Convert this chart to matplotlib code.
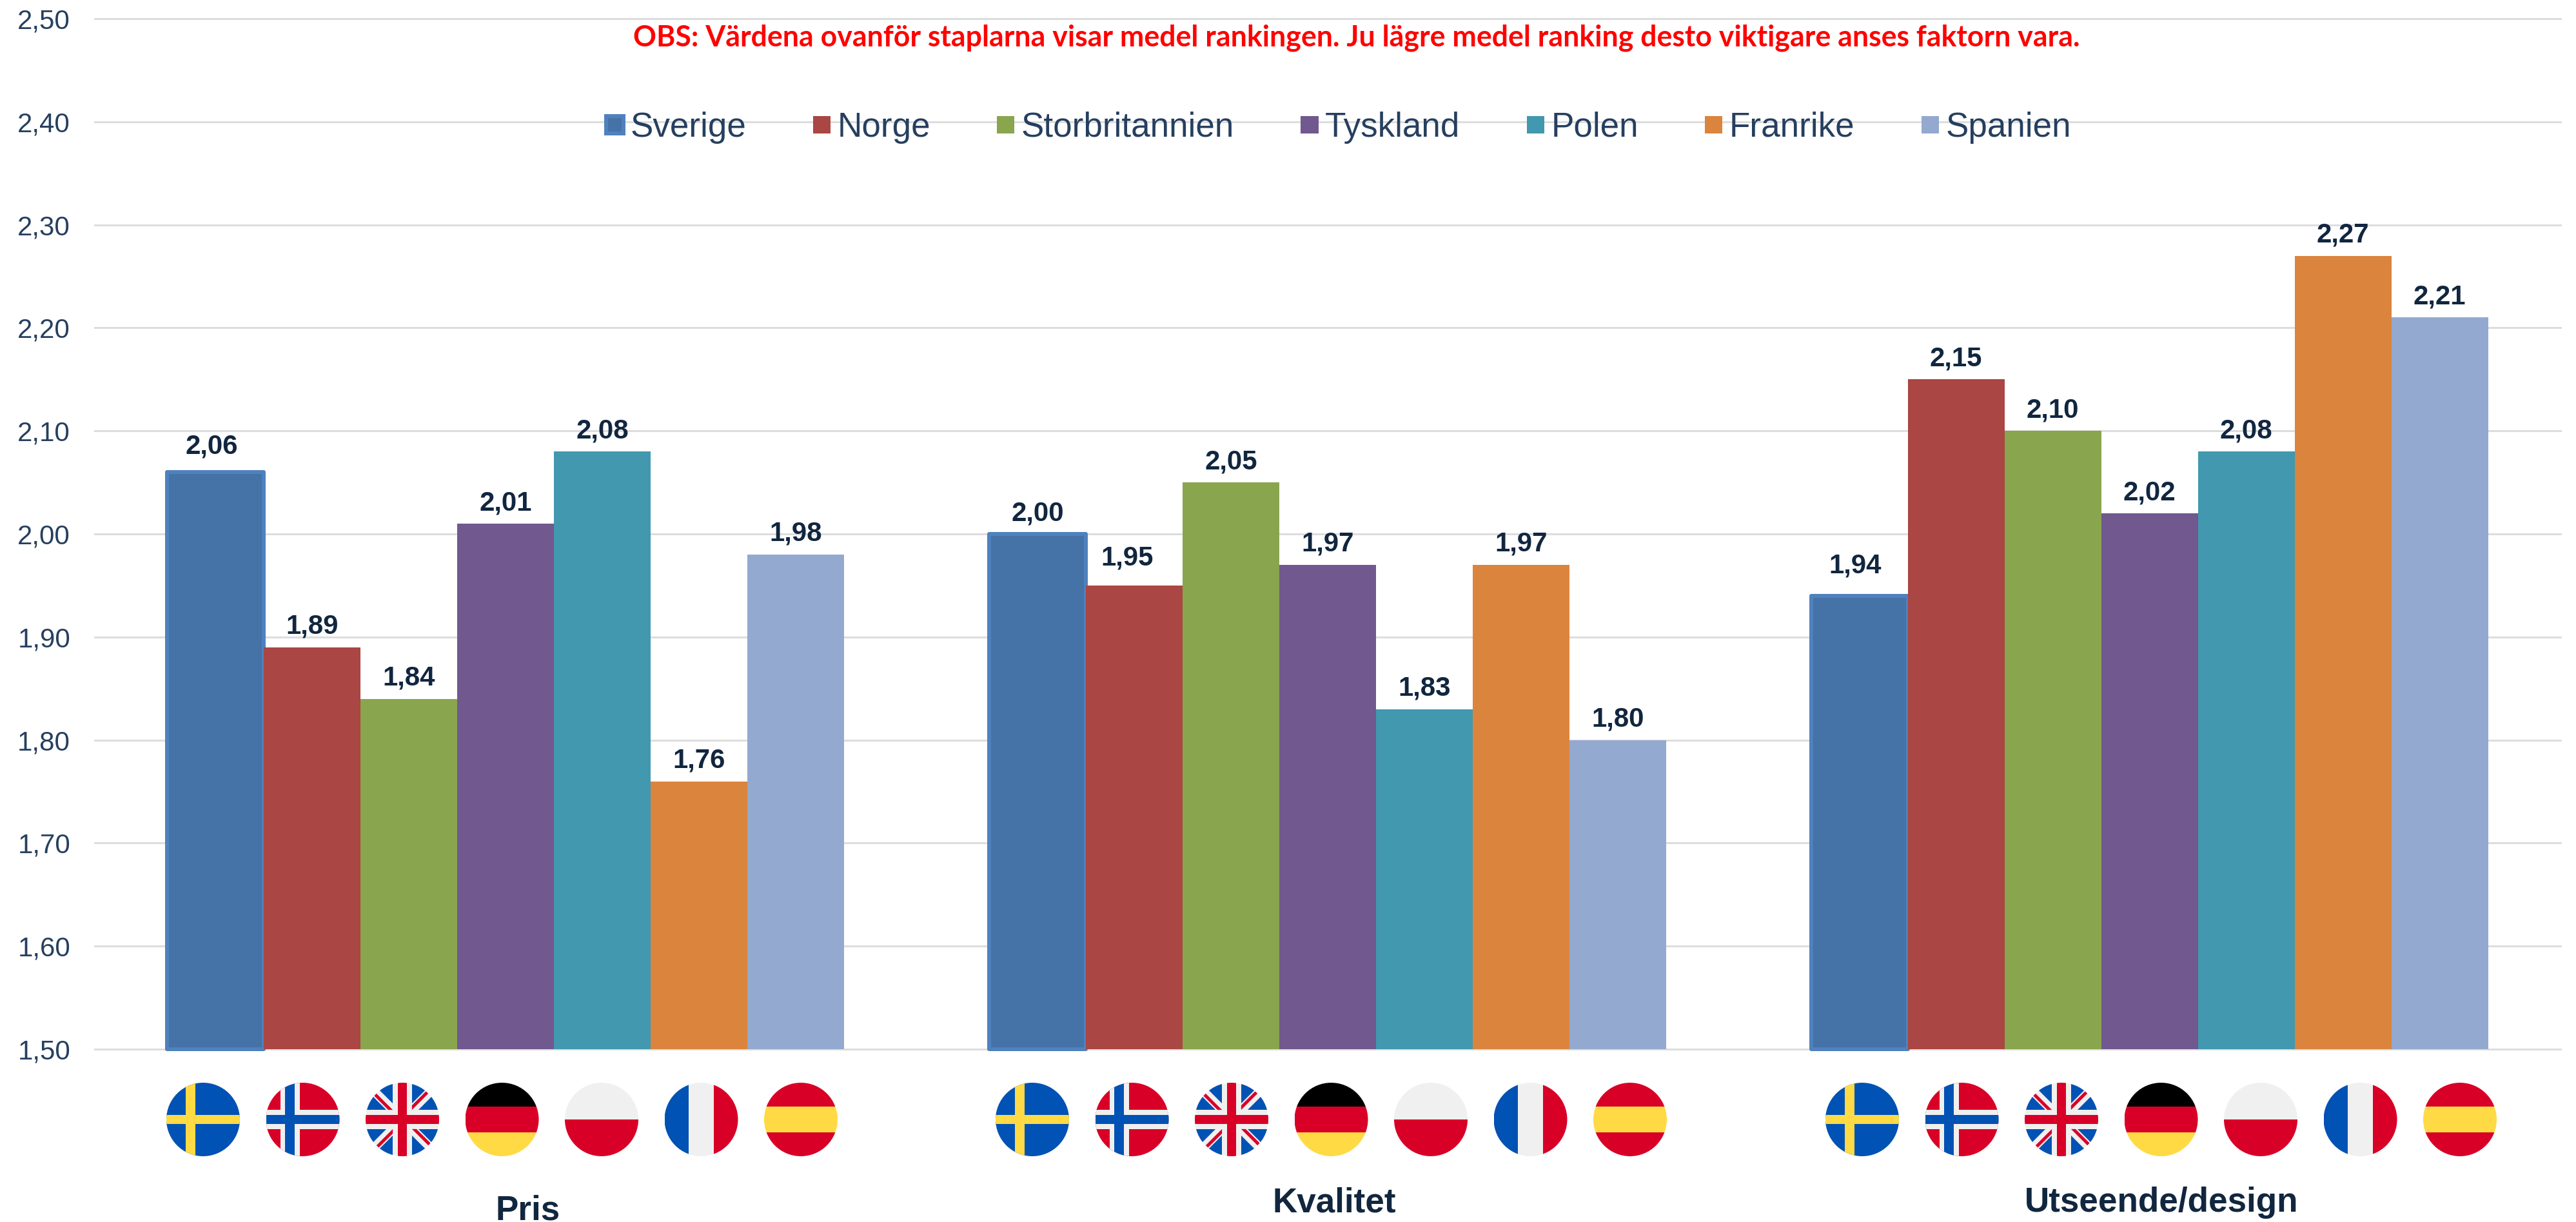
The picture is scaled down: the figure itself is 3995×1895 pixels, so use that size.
import numpy as np
import matplotlib
matplotlib.use('Agg')
import matplotlib.pyplot as plt
from matplotlib.patches import Circle, Polygon
from matplotlib.transforms import Affine2D

plt.rcParams['font.family'] = ['Liberation Sans', 'DejaVu Sans']

W, H = 3995, 1895
PX = 0.72  # points per pixel at dpi 100

groups = ['Pris', 'Kvalitet', 'Utseende/design']
sverige = [2.06, 2.00, 1.94]
norge = [1.89, 1.95, 2.15]
storbritannien = [1.84, 2.05, 2.10]
tyskland = [2.01, 1.97, 2.02]
polen = [2.08, 1.83, 2.08]
franrike = [1.76, 1.97, 2.27]
spanien = [1.98, 1.80, 2.21]

countries = ['Sverige', 'Norge', 'Storbritannien', 'Tyskland', 'Polen', 'Franrike', 'Spanien']
values = [sverige, norge, storbritannien, tyskland, polen, franrike, spanien]
colors = ['#4572A7', '#AA4643', '#89A54E', '#71588F', '#4198AF', '#DB843D', '#93A9CF']
yticks = [1.5, 1.6, 1.7, 1.8, 1.9, 2.0, 2.1, 2.2, 2.3, 2.4, 2.5]

note = 'OBS: Värdena ovanför staplarna visar medel rankingen. Ju lägre medel ranking desto viktigare anses faktorn vara.'

TEXT = '#263F5F'
DARK = '#11263F'

# a few labels were moved by hand in the original (series, group): (dx, dy) in pixels
label_shift = {(0, 0): (-6, 29), (1, 1): (-11, 31), (0, 2): (-7, 35)}

fig = plt.figure(figsize=(W / 100, H / 100), dpi=100)
ax = fig.add_axes([147 / W, 1 - 1627 / H, (3971 - 147) / W, (1627 - 29) / H])

x = np.arange(len(groups))
width = 150 / ((3971 - 147) / 3)
for i, (name, vals, col) in enumerate(zip(countries, values, colors)):
    pos = x + (i - 3) * width
    if i == 0:
        ax.bar(pos, np.array(vals) - 1.5, width, bottom=1.5, color=col, label=name,
               edgecolor='#4F81BD', linewidth=6 * PX, joinstyle='round', clip_on=False, zorder=3)
    else:
        ax.bar(pos, np.array(vals) - 1.5, width, bottom=1.5, color=col, label=name,
               linewidth=0, zorder=3)
    for j, (px, v) in enumerate(zip(pos, vals)):
        dx, dy = label_shift.get((i, j), (0, 21))
        ax.annotate(f'{v:.2f}'.replace('.', ','), (px, v), xytext=(dx * PX, dy * PX),
                    textcoords='offset points', ha='center', va='baseline',
                    fontsize=42 * PX, fontweight='bold', color=DARK, zorder=5)

ax.set_xlim(-0.5, 2.5)
ax.set_ylim(1.5, 2.5)
ax.set_yticks(yticks)
ax.set_yticklabels([f'{t:.2f}'.replace('.', ',') for t in yticks], fontsize=42 * PX, color=TEXT)
ax.set_xticks([])
ax.tick_params(axis='y', length=0, pad=38 * PX)
ax.grid(True, axis='y', color='#DDDDDD', linewidth=3 * PX, zorder=1)
ax.set_axisbelow(True)
for line in ax.get_ygridlines():
    line.set_clip_on(False)
for s in ax.spines.values():
    s.set_visible(False)

fig.legend(ncol=7, loc='center', bbox_to_anchor=(2076 / W, 1 - 198 / H), frameon=False,
           fontsize=53 * PX, labelcolor=TEXT, handlelength=0.51, handleheight=0.41,
           handletextpad=0.2, columnspacing=1.95, borderpad=0, borderaxespad=0)

# overlay in pixel coordinates for flags and group names
ov = fig.add_axes([0, 0, 1, 1], zorder=10)
ov.set_xlim(0, W)
ov.set_ylim(H, 0)
ov.axis('off')
ov.patch.set_alpha(0)

BLUE = '#0052B4'
YEL = '#FFDA44'
RED = '#D80027'
WHT = '#F0F0F0'
R = 57
FLAG_Y = 1736
flag_start = [315, 1601, 2888]
flag_step = 154.5


def flag(cx, shapes):
    # shapes are in the icon's own 512x512 box
    tr = Affine2D().scale(2 * R / 512).translate(cx - R, FLAG_Y - R) + ov.transData
    clip = Circle((256, 256), 256, transform=tr, facecolor='none', edgecolor='none')
    ov.add_patch(clip)
    for pts, col in shapes:
        p = Polygon(pts, closed=True, facecolor=col, edgecolor='none', transform=tr)
        ov.add_patch(p)
        p.set_clip_path(clip)


def box(x0, y0, x1, y1, col):
    return ([(x0, y0), (x1, y0), (x1, y1), (x0, y1)], col)


a, b, c, d = 166.957, 345.043, 222.609, 289.391
se = [box(0, 0, 512, 512, BLUE), box(133.565, 0, 200.348, 512, YEL), box(0, c, 512, d, YEL)]
no = [box(0, 0, 512, 512, RED), box(100.174, 0, 233.739, 512, WHT), box(0, 189.219, 512, 322.783, WHT),
      box(133.565, 0, 200.348, 512, BLUE), box(0, c, 512, d, BLUE)]
base = [(52.92, 100.142), (0, 100.142), (0, 189.219), (141.997, 189.219)]
uk = [box(0, 0, 512, 512, WHT)]
for sx in (False, True):
    for sy in (False, True):
        for swap in (False, True):
            pts = []
            for (px, py) in base:
                if swap:
                    px, py = py, px
                pts.append((512 - px if sx else px, 512 - py if sy else py))
            uk.append((pts, BLUE))
uk += [box(c, 0, d, 512, RED), box(0, c, 512, d, RED),
       ([(322.783, 322.784), (437.019, 437.02), (452.067, 420.585), (354.265, 322.783)], RED),
       ([(189.217, 322.784), (74.98, 437.019), (91.415, 452.067), (189.217, 354.263)], RED),
       ([(189.217, 189.217), (74.981, 74.98), (59.933, 91.415), (157.736, 189.218)], RED),
       ([(322.783, 189.219), (437.02, 74.981), (420.585, 59.934), (322.783, 157.737)], RED)]
de = [box(0, 0, 512, a, '#000000'), box(0, a, 512, b, RED), box(0, b, 512, 512, YEL)]
pl = [box(0, 0, 512, 256, WHT), box(0, 256, 512, 512, RED)]
fr = [box(0, 0, a, 512, BLUE), box(a, 0, b, 512, WHT), box(b, 0, 512, 512, RED)]
es = [box(0, 0, 512, a, RED), box(0, a, 512, b, YEL), box(0, b, 512, 512, RED)]
flags = [se, no, uk, de, pl, fr, es]

for start in flag_start:
    for i, shapes in enumerate(flags):
        flag(start + i * flag_step, shapes)

group_x = [819, 2069, 3352]
group_y = [1891, 1879, 1879]
for name, gx, gy in zip(groups, group_x, group_y):
    ov.text(gx, gy, name, ha='center', va='baseline', fontsize=53 * PX, fontweight='bold', color=DARK)

ov.text(2104, 72, note, ha='center', va='baseline', fontsize=44.6 * PX, fontweight='bold',
        family=['Lato', 'DejaVu Sans'], color='#FF0000')

plt.savefig('out.png', dpi=100)
